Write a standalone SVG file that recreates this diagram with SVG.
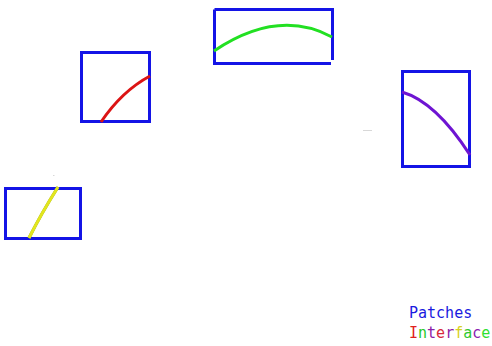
<svg xmlns="http://www.w3.org/2000/svg" width="492" height="346" viewBox="0 0 492 346">
<style>
.patch{fill:none;stroke:#1414e6;stroke-width:3}
.iface{fill:none;stroke-width:3;stroke-linecap:butt}
.legend{font-family:"DejaVu Sans Mono","Liberation Mono",monospace;font-size:15px}
</style>
<rect width="492" height="346" fill="#ffffff"/>
<g id="patch-yellow">
<rect class="patch" x="5.5" y="188.5" width="75" height="50"/>
<path class="iface" d="M29,238 Q41,214 58,187" stroke="#8f9a20" stroke-width="3.6"/>
<path class="iface" d="M29,238 Q41,214 58,187" stroke="#e2e61e" stroke-width="2"/>
</g>
<g id="patch-red">
<rect class="patch" x="81.5" y="52.5" width="68" height="69"/>
<path class="iface" d="M101,122 Q122,91 150,76" stroke="#dc1414"/>
</g>
<g id="patch-green">
<path class="patch" d="M214.5,9.5 H332.5 V60 M214.5,9.5 V63.5 H331"/>
<path class="iface" d="M214,51 Q278,8 332,37" stroke="#22e022"/>
</g>
<g id="patch-purple">
<rect class="patch" x="402.5" y="71.5" width="67" height="95"/>
<path class="iface" d="M402,92 Q436,102 470,155" stroke="#6e14d2"/>
</g>
<g id="connectors"></g>
<g id="artifacts" stroke="#d8d8d8" stroke-width="1">
<line x1="363" y1="130.5" x2="372" y2="130.5"/>
<line x1="53" y1="175.5" x2="54.5" y2="175.5"/>
</g>
<g id="legend" class="legend">
<text x="409" y="318" fill="#1a1ae0">Patches</text>
<text x="409" y="338"><tspan fill="#e02020">I</tspan><tspan fill="#28c828">n</tspan><tspan fill="#8a20a8">t</tspan><tspan fill="#d8283c">e</tspan><tspan fill="#8a20a8">r</tspan><tspan fill="#d8d020">f</tspan><tspan fill="#30c830">a</tspan><tspan fill="#8a20b0">c</tspan><tspan fill="#30e030">e</tspan></text>
</g>
</svg>
